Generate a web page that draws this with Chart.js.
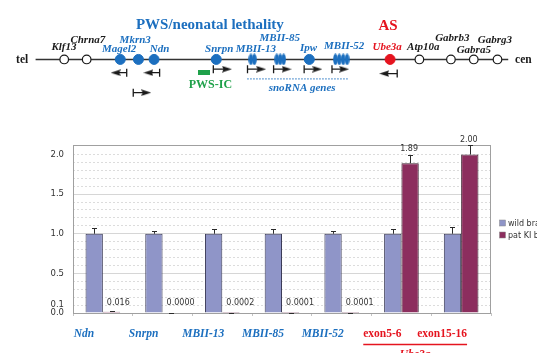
<!DOCTYPE html>
<html><head><meta charset="utf-8">
<script src="https://cdn.jsdelivr.net/npm/chart.js@4.4.0/dist/chart.umd.min.js"></script>
<style>
html,body{margin:0;padding:0;background:#fff;overflow:hidden;}
#wrap{position:relative;width:537px;height:353px;overflow:hidden;}
canvas{position:absolute;left:0;}
#map{top:0;}
#bars{top:110px;}
</style></head><body>
<div id="wrap"><canvas id="map" width="537" height="110"></canvas><canvas id="bars" width="537" height="243"></canvas></div>
<script>
// ---------------- data: bar chart ----------------
const categories = ['Ndn','Snrpn','MBII-13','MBII-85','MBII-52','exon5-6','exon15-16'];
const seriesNames = ['wild brain','pat KI brain'];
const wildValues = [1.0,1.0,1.0,1.0,1.0,1.0,1.0];
const wildErrors = [0.07,0.04,0.06,0.06,0.04,0.06,0.09];
const patValues  = [0.016,0.0000,0.0002,0.0001,0.0001,1.89,2.00];
const patErrors  = [0.004,0,0,0,0,0.11,0.115];
const patLabels  = ['0.016','0.0000','0.0002','0.0001','0.0001','1.89','2.00'];
const yTickLabels = [0.0,0.1,0.5,1.0,1.5,2.0];
const ySolidGrid = [0.5,1.0,1.5];
const yGridStep = 0.1;
const yGridTop = 2.0;
const yMax = 2.12;
const groupedCategories = ['exon5-6','exon15-16'];
const groupTitle = 'Ube3a';

// ---------------- data: gene map ----------------
const geneNames = ['Klf13','Chrna7','Magel2','Mkrn3','Ndn','Snrpn','MBII-13','MBII-85','Ipw','MBII-52','Ube3a','Atp10a','Gabrb3','Gabra5','Gabrg3'];
const genePos   = [59.3,82.3,116.7,135.3,151.3,215,252,280.5,310.3,343,393,423,455.3,478.7,503];
const geneKind  = ['other','other','pws','pws','pws','pws','sno','sno','pws','sno','as','other','other','other','other'];
const snoCopies = {'MBII-13':[250.5,254],'MBII-85':[277,280.5,284],'MBII-52':[337,341,345,349]};
const transcriptGene = ['Magel2','Ndn','Mkrn3','Snrpn','MBII-13','MBII-85','Ipw','MBII-52','Ube3a'];
const transcriptFrom = [123.3,157,130,212,247,273.7,305,333.5,400.3];
const transcriptTo   = [107,140.5,148.3,231,266,292,323.5,351,382];
const chromStart = 30, chromEnd = 514;
const imprintCenter = 202.5;
const snoClusterFrom = 246.7, snoClusterTo = 350.3;

// ---------------- layout / style ----------------
const BLUE='#1C6FBF', RED='#E5141F', GREEN='#1FA14A', INK='#1a1a1a';
const ROW_CHROM = 60;
const transcriptRow = {'Magel2':75,'Ndn':75,'Mkrn3':97.5,'Ube3a':76};
const ROW_SENSE = 71;
const geneLabelLayout = {
 'Klf13':[59,46.5],'Chrna7':[83.5,38.5],'Magel2':[115.5,48.5],'Mkrn3':[132,38.5],'Ndn':[157,48.5],
 'Snrpn':[218,48.5],'MBII-13':[255.5,48.5],'MBII-85':[280,35.5],'Ipw':[309.5,47],'MBII-52':[346,45.5],
 'Ube3a':[390,46],'Atp10a':[427,46],'Gabrb3':[456.7,36],'Gabra5':[478.7,50],'Gabrg3':[500.3,38.5]
};
const mapTexts = [
 {t:'PWS/neonatal lethality',x:208.5,y:21,c:BLUE,f:'bold 15px "Liberation Serif"',a:'center'},
 {t:'AS',x:391,y:22,c:RED,f:'bold 15px "Liberation Serif"',a:'center'},
 {t:'tel',x:10,y:60.5,c:INK,f:'bold 11.5px "Liberation Serif"',a:'left'},
 {t:'cen',x:521,y:61,c:INK,f:'bold 11.5px "Liberation Serif"',a:'left'},
 {t:'PWS-IC',x:209,y:88.5,c:GREEN,f:'bold 12px "Liberation Serif"',a:'center'},
 {t:'snoRNA genes',x:303,y:93,c:BLUE,f:'italic bold 11px "Liberation Serif"',a:'center'}
];

function makeEllipse(){
  const c=document.createElement('canvas'); c.width=5; c.height=12;
  const g=c.getContext('2d'); g.fillStyle=BLUE; g.beginPath();
  g.ellipse(2.5,6,2.3,5.8,0,0,Math.PI*2); g.fill(); return c;
}
function makeHead(dir){
  const c=document.createElement('canvas'); c.width=10; c.height=7;
  const g=c.getContext('2d'); g.fillStyle=INK; g.beginPath();
  if(dir>0){g.moveTo(0,0.3);g.lineTo(10,3.5);g.lineTo(0,6.7);g.lineTo(1.5,3.5);}
  else {g.moveTo(10,0.3);g.lineTo(0,3.5);g.lineTo(10,6.7);g.lineTo(8.5,3.5);}
  g.closePath(); g.fill(); return c;
}
function makeRect(w,h,col){
  const c=document.createElement('canvas'); c.width=w; c.height=h;
  const g=c.getContext('2d'); g.fillStyle=col; g.fillRect(0,0,w,h); return c;
}
const ellipseImg = makeEllipse(), headR = makeHead(1), headL = makeHead(-1), icImg = makeRect(12,5,GREEN);

// ---------------- map chart ----------------
const mapDatasets = [];
mapDatasets.push({type:'line',data:[{x:chromStart,y:ROW_CHROM},{x:chromEnd,y:ROW_CHROM}],borderColor:'#333',borderWidth:1.4,pointRadius:0,order:10});
mapDatasets.push({type:'line',data:[{x:snoClusterFrom,y:82},{x:snoClusterTo,y:82}],borderColor:BLUE,borderWidth:1,borderDash:[1.5,1.5],pointRadius:0,order:10});
const kinds = {other:{r:4.3,bg:'#fff',bc:INK,bw:1.2},pws:{r:5,bg:BLUE,bc:BLUE,bw:1},as:{r:5,bg:RED,bc:RED,bw:1}};
Object.keys(kinds).forEach(k=>{
  const pts=[]; geneNames.forEach((g,i)=>{ if(geneKind[i]===k) pts.push({x:genePos[i],y:ROW_CHROM}); });
  const s=kinds[k];
  mapDatasets.push({type:'scatter',data:pts,pointRadius:s.r,pointBackgroundColor:s.bg,pointBorderColor:s.bc,pointBorderWidth:s.bw,order:1});
});
const snoPts=[]; Object.keys(snoCopies).forEach(g=>snoCopies[g].forEach(x=>snoPts.push({x,y:ROW_CHROM})));
mapDatasets.push({type:'scatter',data:snoPts,pointStyle:ellipseImg,pointRadius:5,order:1});
mapDatasets.push({type:'scatter',data:[{x:imprintCenter,y:75}],pointStyle:icImg,pointRadius:5,order:1});
transcriptGene.forEach((g,i)=>{
  const dir = transcriptTo[i]>transcriptFrom[i]?1:-1;
  const row = transcriptRow[g]!==undefined?transcriptRow[g]:ROW_SENSE;
  mapDatasets.push({type:'line',data:[{x:transcriptFrom[i],y:row},{x:transcriptTo[i]-dir*5,y:row}],
    borderColor:INK,borderWidth:1.3,pointStyle:['line',dir>0?headR:headL],pointRotation:[90,0],
    pointRadius:[4,5],pointBorderColor:INK,pointBorderWidth:1.3,pointBackgroundColor:INK,order:1});
});
const mapTextPlugin = {id:'mapText',afterDatasetsDraw(chart){
  const ctx=chart.ctx, xs=chart.scales.x, ys=chart.scales.y;
  ctx.save(); ctx.textBaseline='middle';
  geneNames.forEach((g,i)=>{
    const L=geneLabelLayout[g];
    ctx.font='italic bold 11px "Liberation Serif"';
    ctx.fillStyle = geneKind[i]==='other'?INK:(geneKind[i]==='as'?RED:BLUE);
    ctx.textAlign='center';
    ctx.fillText(g, xs.getPixelForValue(L[0]), ys.getPixelForValue(L[1]));
  });
  mapTexts.forEach(m=>{ctx.font=m.f;ctx.fillStyle=m.c;ctx.textAlign=m.a;ctx.fillText(m.t,xs.getPixelForValue(m.x),ys.getPixelForValue(m.y));});
  ctx.restore();
}};
new Chart(document.getElementById('map'),{
  type:'scatter',
  data:{datasets:mapDatasets},
  options:{responsive:false,animation:false,devicePixelRatio:1,events:[],
    layout:{padding:0},
    plugins:{legend:{display:false},tooltip:{enabled:false}},
    scales:{x:{type:'linear',min:0,max:537,display:false},y:{type:'linear',min:0,max:110,reverse:true,display:false}}},
  plugins:[mapTextPlugin]
});

// ---------------- bar chart ----------------
const isBlueCat = i => !groupedCategories.includes(categories[i]);
const LABEL_OFFSET = -19;
const framePlugin = {id:'frame',beforeDatasetsDraw(chart){
  const a=chart.chartArea, ctx=chart.ctx; ctx.save(); ctx.strokeStyle='#a0a0a0'; ctx.lineWidth=1;
  ctx.strokeRect(Math.round(a.left)+0.5,Math.round(a.top)+0.5,Math.round(a.right-a.left)-1,Math.round(a.bottom-a.top)); ctx.restore();
}};
const errorPlugin = {id:'errbars',afterDatasetsDraw(chart){
  const ctx=chart.ctx, ys=chart.scales.y; ctx.save(); ctx.strokeStyle='#2a2a2a'; ctx.lineWidth=1;
  chart.data.datasets.forEach((ds,di)=>{
    chart.getDatasetMeta(di).data.forEach((bar,i)=>{
      const v=ds.data[i], e=ds.errors[i];
      const yTop=Math.round(ys.getPixelForValue(v+e))+0.5, yv=ys.getPixelForValue(v);
      const x=Math.round(bar.x)+0.5;
      ctx.beginPath(); ctx.moveTo(x,yv); ctx.lineTo(x,yTop); ctx.moveTo(x-2.5,yTop); ctx.lineTo(x+2.5,yTop); ctx.stroke();
    });
  });
  ctx.restore();
}};
const valuePlugin = {id:'vals',afterDatasetsDraw(chart){
  const ctx=chart.ctx, ys=chart.scales.y, ds=chart.data.datasets[1];
  ctx.save(); ctx.font='8px "DejaVu Sans"'; ctx.fillStyle='#333'; ctx.textBaseline='middle';
  chart.getDatasetMeta(1).data.forEach((bar,i)=>{
    const top=ds.data[i]+ds.errors[i];
    if(top<0.1){ ctx.textAlign='left'; ctx.fillText(patLabels[i], bar.x-bar.width/2+4, ys.getPixelForValue(0)-10); }
    else { ctx.textAlign='center'; ctx.fillText(patLabels[i], bar.x-1, ys.getPixelForValue(top)-5.5); }
  });
  ctx.restore();
}};
const legendPlugin = {id:'legendR',afterDraw(chart){
  const ctx=chart.ctx, a=chart.chartArea; const cy=(a.top+a.bottom)/2;
  ctx.save(); ctx.font='8px "DejaVu Sans"'; ctx.textBaseline='middle'; ctx.textAlign='left';
  chart.data.datasets.forEach((ds,i)=>{
    const y=cy-6+i*12, x=a.right+8.5;
    ctx.fillStyle=ds.backgroundColor; ctx.fillRect(x,y-3,6,6);
    ctx.strokeStyle='#888'; ctx.lineWidth=0.5; ctx.strokeRect(x,y-3,6,6);
    ctx.fillStyle='#333'; ctx.fillText(ds.label,x+8.5,y+0.5);
  });
  ctx.restore();
}};
const groupPlugin = {id:'grp',afterDraw(chart){
  const ctx=chart.ctx, xs=chart.scales.x;
  const i0=categories.indexOf(groupedCategories[0]), i1=categories.indexOf(groupedCategories[groupedCategories.length-1]);
  ctx.save(); ctx.font='bold 11.5px "Liberation Serif"';
  const c0=xs.getPixelForValue(i0)+LABEL_OFFSET, c1=xs.getPixelForValue(i1)+LABEL_OFFSET;
  const l=c0-ctx.measureText(categories[i0]).width/2, r=c1+ctx.measureText(categories[i1]).width/2;
  const yLine = chart.chartArea.bottom+31.5;
  ctx.strokeStyle=RED; ctx.lineWidth=1.3; ctx.beginPath(); ctx.moveTo(l,yLine); ctx.lineTo(r,yLine); ctx.stroke();
  ctx.font='italic bold 11.5px "Liberation Serif"'; ctx.fillStyle=RED; ctx.textAlign='center'; ctx.textBaseline='alphabetic';
  ctx.fillText(groupTitle,(l+r)/2,yLine+13);
  ctx.restore();
}};
new Chart(document.getElementById('bars'),{
  type:'bar',
  data:{labels:categories,datasets:[
    {label:seriesNames[0],data:wildValues,errors:wildErrors,backgroundColor:'#8F95C8',borderColor:'#3c3c58',borderWidth:1},
    {label:seriesNames[1],data:patValues,errors:patErrors,backgroundColor:'#8C2E5E',borderColor:'#3a1d2c',borderWidth:1}
  ]},
  options:{responsive:false,animation:false,devicePixelRatio:1,events:[],
    layout:{padding:{top:35,right:46,left:0,bottom:0}},
    plugins:{legend:{display:false},tooltip:{enabled:false}},
    datasets:{bar:{categoryPercentage:0.58,barPercentage:1}},
    scales:{
      x:{grid:{display:true,drawOnChartArea:false,drawTicks:true,tickLength:3,offset:true,color:'#c4c4c4'},
         border:{display:false},
         ticks:{autoSkip:false,maxRotation:0,minRotation:0,padding:11,labelOffset:LABEL_OFFSET,
           font:c=>isBlueCat(c.index)?{family:'Liberation Serif',size:11.5,style:'italic',weight:'bold'}:{family:'Liberation Serif',size:11.5,weight:'bold'},
           color:c=>isBlueCat(c.index)?BLUE:RED},
         afterFit:s=>{s.height=40;}},
      y:{min:0,max:yMax,
         afterBuildTicks:s=>{const t=[];for(let k=0;k<=Math.round(yGridTop/yGridStep);k++)t.push({value:+(k*yGridStep).toFixed(2)});s.ticks=t;},
         grid:{drawTicks:false,lineWidth:1,color:c=>{const v=c.tick?c.tick.value:0;return ySolidGrid.some(s=>Math.abs(s-v)<1e-6)?'#d6d6d6':'#dcdcdc';}},
         border:{display:false,dash:c=>{const v=c.tick?c.tick.value:0;return ySolidGrid.some(s=>Math.abs(s-v)<1e-6)?[]:[2,2];}},
         ticks:{autoSkip:false,padding:9,color:'#333',font:{family:'DejaVu Sans',size:8.5},
           callback:v=>yTickLabels.some(t=>Math.abs(t-v)<1e-6)?Number(v).toFixed(1):''},
         afterFit:s=>{s.width=73;}}
    }},
  plugins:[framePlugin,errorPlugin,valuePlugin,legendPlugin,groupPlugin]
});
</script>
</body></html>
